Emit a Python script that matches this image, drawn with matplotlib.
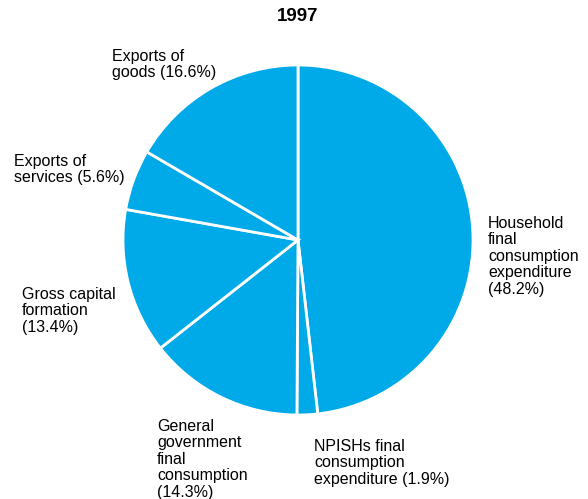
import matplotlib.pyplot as plt

plt.rcParams['font.family'] = ['Liberation Sans', 'DejaVu Sans']

# GDP expenditure shares, 1997 (clockwise from 12 o'clock)
categories = ["Household\nfinal\nconsumption\nexpenditure",
              "NPISHs final\nconsumption\nexpenditure",
              "General\ngovernment\nfinal\nconsumption",
              "Gross capital\nformation",
              "Exports of\nservices",
              "Exports of\ngoods"]
shares = [48.2, 1.9, 14.3, 13.4, 5.6, 16.6]
# label text anchor (left, top) in pixels
label_pos = [(488, 216), (314, 439), (157, 419), (22, 287), (14, 154), (112, 49)]
# whether the percentage goes on its own line
pct_newline = [True, False, True, True, False, False]

W, H = 588, 499
fig = plt.figure(figsize=(W / 100, H / 100), dpi=100)

cx, cy, r = 298, 240, 175
ax = fig.add_axes([(cx - r) / W, (H - cy - r) / H, 2 * r / W, 2 * r / H])
ax.pie(shares, startangle=90, counterclock=False, colors=['#00a9e8'] * len(shares),
       wedgeprops=dict(edgecolor='white', linewidth=2))
ax.set_xlim(-1, 1)
ax.set_ylim(-1, 1)
ax.set_aspect('equal')

for cat, val, (px, py), nl in zip(categories, shares, label_pos, pct_newline):
    sep = "\n" if nl else " "
    fig.text(px / W, 1 - py / H, f"{cat}{sep}({val}%)", ha='left', va='top',
             fontsize=11.5, linespacing=1.12, color='black')

fig.text(cx / W, 1 - 8 / H, "1997", ha='center', va='top', fontsize=13.5, fontweight='bold')

fig.savefig('out.png', dpi=100)
